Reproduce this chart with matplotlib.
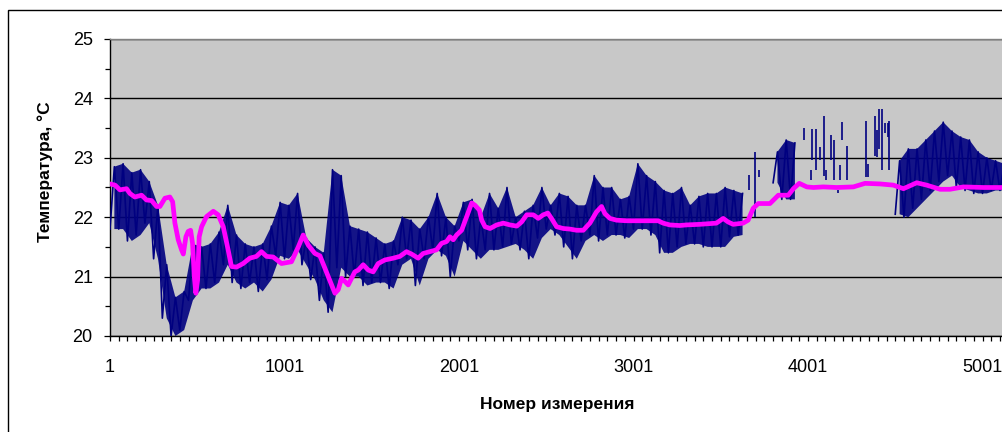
import numpy as np
import matplotlib
matplotlib.use("Agg")
import matplotlib.pyplot as plt
from matplotlib.patches import Rectangle
from matplotlib.ticker import FixedLocator, MultipleLocator

plt.rcParams["font.family"] = ["Liberation Sans", "DejaVu Sans"]

# Raw temperature readings: range (low, high) of the samples in each
# block of 50 measurements, starting at measurement 1 (nan = no data)
block_size = 50
raw_low = [
    21.8, 21.8, 21.6, 21.7, 21.9, 21.3, 20.3, 20.0, 20.1, 20.6,
    20.8, 20.8, 20.9, 21.2, 20.9, 20.8, 20.9, 20.75, 20.95, 21.35,
    21.3, 21.45, 21.2, 20.95, 20.6, 20.4, 21.15, 21.0, 21.0, 20.85,
    20.9, 20.9, 20.8, 21.2, 21.3, 20.85, 21.3, 21.45, 21.35, 21.0,
    21.6, 21.45, 21.3, 21.45, 21.45, 21.5, 21.55, 21.45, 21.3, 21.65,
    21.8, 21.7, 21.5, 21.3, 21.6, 21.7, 21.6, 21.7, 21.7, 21.65,
    21.8, 21.8, 21.7, 21.4, 21.4, 21.5, 21.55, 21.55, 21.5, 21.5,
    21.5, 21.67, 21.7, np.nan, np.nan, np.nan, 22.58, 22.3, 22.3, np.nan,
    np.nan, np.nan, np.nan, np.nan, np.nan, np.nan, np.nan, np.nan, np.nan, np.nan,
    22.05, 22.0, 22.15, 22.3, 22.45, 22.6, 22.7, 22.5, 22.45, 22.4,
    22.4, 22.45, 22.45,
]
raw_high = [
    22.85, 22.9, 22.75, 22.8, 22.6, 22.2, 21.2, 20.65, 20.75, 21.55,
    21.5, 21.55, 21.75, 22.2, 21.7, 21.55, 21.5, 21.55, 21.85, 22.25,
    22.2, 22.4, 21.65, 21.5, 21.4, 22.8, 22.7, 21.85, 21.8, 21.75,
    21.65, 21.55, 21.6, 22.0, 21.95, 21.8, 22.0, 22.4, 22.0, 21.85,
    22.25, 22.3, 22.0, 22.4, 22.15, 22.5, 22.0, 22.1, 22.2, 22.5,
    22.2, 22.4, 22.35, 22.2, 22.2, 22.7, 22.5, 22.5, 22.3, 22.35,
    22.9, 22.7, 22.6, 22.45, 22.4, 22.5, 22.2, 22.35, 22.4, 22.4,
    22.5, 22.45, 22.4, np.nan, np.nan, np.nan, 23.1, 23.3, 23.25, np.nan,
    np.nan, np.nan, np.nan, np.nan, np.nan, np.nan, np.nan, np.nan, np.nan, np.nan,
    22.95, 23.15, 23.15, 23.3, 23.45, 23.6, 23.45, 23.35, 23.3, 23.1,
    23.0, 22.95, 22.9,
]

# Short isolated runs of raw readings inside the patchy stretch
burst_meas = [3662, 3700, 3722, 3979, 4017, 4024, 4049, 4072, 4093, 4106,
              4135, 4150, 4173, 4187, 4198, 4222, 4336, 4345, 4384, 4399,
              4409, 4426, 4441, 4458, 4466]
burst_low = [22.46, 22.0, 22.68, 23.3, 22.62, 22.96, 22.8, 22.96, 22.7, 22.62,
             22.96, 22.62, 22.4, 22.62, 23.3, 22.63, 22.68, 22.68, 23.03, 23.02,
             23.14, 22.8, 23.41, 23.35, 22.8]
burst_high = [22.71, 23.1, 22.8, 23.5, 22.8, 23.49, 23.49, 23.18, 23.7, 22.8,
              23.38, 23.3, 22.46, 22.88, 23.6, 23.2, 23.62, 22.9, 23.7, 23.46,
              23.82, 23.82, 23.58, 23.58, 23.62]

# Smoothed temperature
smooth_meas = [
    1, 30, 58, 96, 115, 143, 182, 210, 239, 268, 287, 316, 344, 360, 373,
    392, 411, 421, 436, 449, 463, 474, 484, 493, 503, 512, 526, 554, 593,
    621, 650, 678, 697, 726, 764, 802, 840, 869, 898, 936, 984, 1041, 1080,
    1108, 1137, 1175, 1204, 1252, 1290, 1309, 1328, 1347, 1366, 1385, 1404,
    1424, 1452, 1481, 1509, 1538, 1576, 1624, 1662, 1700, 1729, 1767, 1796,
    1834, 1872, 1901, 1930, 1949, 1968, 1987, 2016, 2045, 2074, 2093, 2118,
    2131, 2150, 2179, 2217, 2255, 2293, 2332, 2360, 2389, 2427, 2455, 2484,
    2510, 2531, 2560, 2598, 2637, 2675, 2713, 2751, 2789, 2818, 2837, 2866,
    2904, 2961, 3037, 3142, 3171, 3209, 3266, 3304, 3381, 3476, 3515, 3543,
    3572, 3629, 3658, 3687, 3716, 3783, 3831, 3888, 3917, 3951, 3994, 4032,
    4089, 4165, 4261, 4328, 4414, 4490, 4548, 4624, 4681, 4758, 4815, 4892,
    5006, 5121,
]
smooth_temp = [
    22.56, 22.54, 22.46, 22.48, 22.40, 22.34, 22.37, 22.29, 22.28, 22.18,
    22.18, 22.32, 22.34, 22.26, 21.90, 21.62, 21.45, 21.38, 21.67, 21.76,
    21.78, 21.56, 21.00, 20.72, 20.94, 21.67, 21.84, 22.01, 22.10, 22.04,
    21.84, 21.45, 21.17, 21.16, 21.22, 21.31, 21.34, 21.42, 21.34, 21.33,
    21.22, 21.25, 21.50, 21.70, 21.53, 21.39, 21.35, 21.00, 20.72, 20.78,
    20.97, 20.92, 20.86, 20.97, 21.08, 21.11, 21.20, 21.11, 21.08, 21.22,
    21.28, 21.31, 21.34, 21.42, 21.38, 21.31, 21.39, 21.42, 21.45, 21.56,
    21.59, 21.67, 21.62, 21.70, 21.78, 22.01, 22.24, 22.20, 22.12, 21.95,
    21.84, 21.81, 21.87, 21.90, 21.87, 21.85, 21.92, 22.04, 22.04, 21.98,
    22.04, 22.07, 21.98, 21.84, 21.81, 21.80, 21.78, 21.78, 21.90, 22.09,
    22.18, 22.06, 21.98, 21.95, 21.94, 21.94, 21.94, 21.90, 21.87, 21.86,
    21.87, 21.88, 21.90, 21.98, 21.92, 21.88, 21.90, 21.95, 22.15, 22.23,
    22.23, 22.37, 22.37, 22.48, 22.57, 22.51, 22.50, 22.51, 22.50, 22.51,
    22.57, 22.56, 22.54, 22.48, 22.58, 22.54, 22.47, 22.47, 22.51, 22.50,
    22.50,
]

x_labels = ["1", "1001", "2001", "3001", "4001", "5001"]
y_ticks = [20, 21, 22, 23, 24, 25]

NAVY = "#000080"
MAGENTA = "#FF00FF"

W, H = 1003, 432
fig = plt.figure(figsize=(W / 100, H / 100), dpi=100)
fig.patch.set_facecolor("white")

# Outer chart frame
fig.patches.append(Rectangle((8 / W, -0.2), 1.2, (H - 10) / H + 0.2,
                             transform=fig.transFigure, fill=False,
                             edgecolor="black", linewidth=1.0))

x_max = 5141
ax = fig.add_axes([110 / W, (H - 336) / H, (x_max - 1) * 0.1745 / W, 297 / H])
ax.set_facecolor("#C8C8C8")

# Raw series: spread of each block as a band, plus a rise from low to high
low = np.array(raw_low)
high = np.array(raw_high)
starts = 1 + block_size * np.arange(len(low))
centers = starts + block_size / 2
ax.fill_between(centers, low, high, color=NAVY, alpha=0.9, linewidth=0, zorder=2)
xs = np.column_stack([starts, centers]).ravel()
ys = np.column_stack([low, high]).ravel()
ax.plot(xs, ys, color=NAVY, linewidth=1.2, zorder=3)
ax.vlines(burst_meas, burst_low, burst_high, color=NAVY, linewidth=1.2, zorder=3)

ax.plot(smooth_meas, smooth_temp, color=MAGENTA, linewidth=3.4,
        solid_joinstyle="round", solid_capstyle="round", zorder=4)

ax.set_xlim(1, x_max)
ax.set_ylim(20, 25)

ax.xaxis.set_major_locator(FixedLocator([1 + 1000 * i for i in range(len(x_labels))]))
ax.set_xticklabels(x_labels)
ax.xaxis.set_minor_locator(FixedLocator(list(range(1, x_max, 50))))
ax.set_yticks(y_ticks)
ax.set_yticklabels([str(v) for v in y_ticks])
ax.yaxis.set_minor_locator(MultipleLocator(0.5))

ax.tick_params(axis="x", which="both", direction="out", length=3.8, width=0.9,
               color="black")
ax.tick_params(axis="x", which="major", labelsize=13, pad=13)
ax.tick_params(axis="y", which="major", direction="out", length=4.5, width=0.9,
               labelsize=13, pad=8)
ax.tick_params(axis="y", which="minor", direction="out", length=3.5, width=0.9)

ax.grid(axis="y", which="major", color="black", linewidth=1.0, zorder=1)
ax.set_axisbelow(True)

for side in ("left", "bottom"):
    ax.spines[side].set_color("black")
    ax.spines[side].set_linewidth(1.0)
ax.spines["top"].set_color("#808080")
ax.spines["top"].set_linewidth(1.0)
ax.spines["right"].set_visible(False)

fig.text(45 / W, 1 - 172 / H, "Температура, °C", rotation=90, fontsize=12.5,
         fontweight="bold", ha="center", va="center")
fig.text(557 / W, 1 - 404 / H, "Номер измерения", fontsize=12.5,
         fontweight="bold", ha="center", va="center")

fig.savefig("out.png", dpi=100)
